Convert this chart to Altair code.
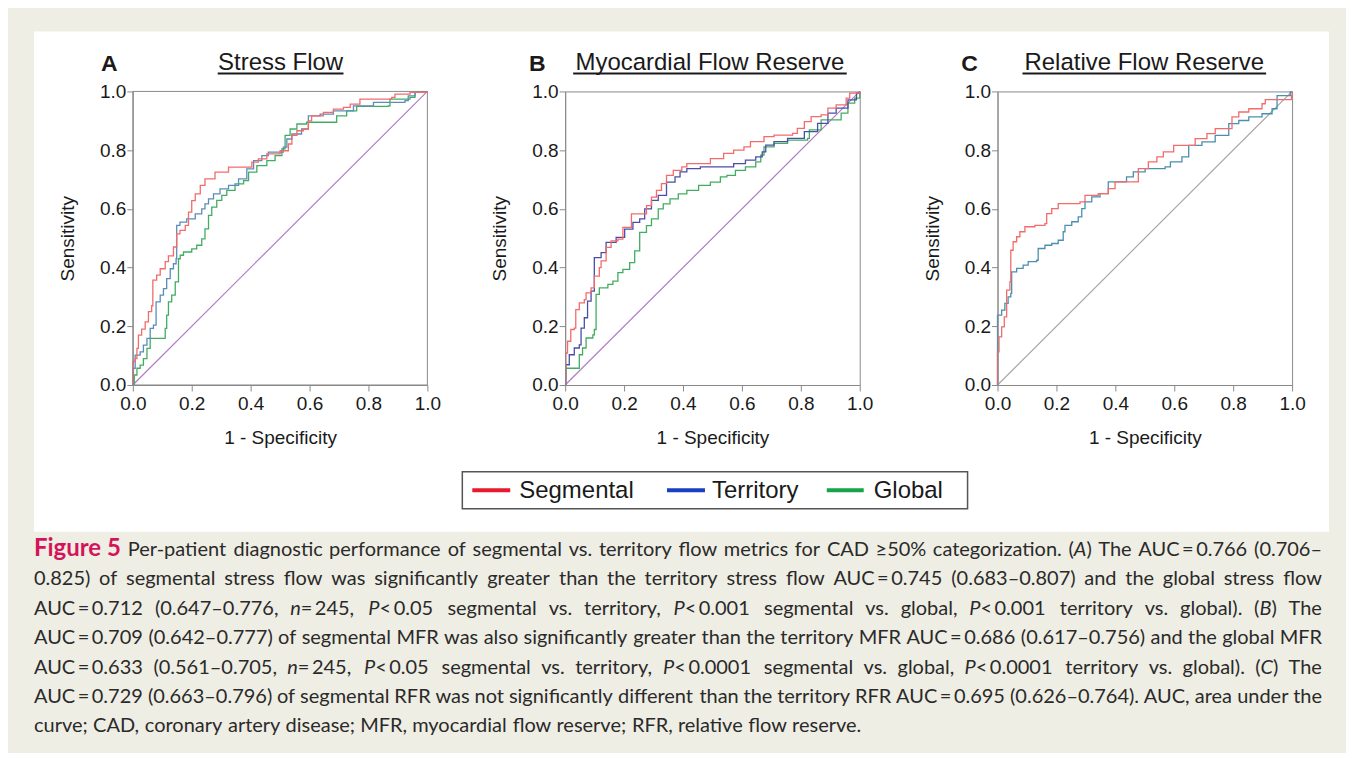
import glob
import os
import struct

import altair as alt
import pandas as pd

# ---------------- data ----------------
series_names = ["Segmental", "Territory", "Global"]
panel_letters = ["A", "B", "C"]
panel_titles = ["Stress Flow", "Myocardial Flow Reserve", "Relative Flow Reserve"]
tick_values = [0.0, 0.2, 0.4, 0.6, 0.8, 1.0]
diag_fpr = [0.0, 1.0]
diag_tpr = [0.0, 1.0]

# Panel A: stress flow  (1-specificity, sensitivity)
a_segmental = [(0, 0), (0, 0.08), (0.008, 0.09), (0.014, 0.125), (0.019, 0.17), (0.03, 0.19), (0.042, 0.215),
               (0.053, 0.25), (0.064, 0.27), (0.068, 0.357), (0.081, 0.374), (0.093, 0.396), (0.11, 0.42),
               (0.121, 0.44), (0.138, 0.47), (0.149, 0.515), (0.16, 0.527), (0.178, 0.544), (0.189, 0.589),
               (0.2, 0.628), (0.212, 0.651), (0.229, 0.68), (0.245, 0.702), (0.279, 0.725), (0.319, 0.725),
               (0.325, 0.742), (0.393, 0.742), (0.404, 0.759), (0.426, 0.77), (0.455, 0.787), (0.5, 0.798),
               (0.517, 0.798), (0.528, 0.821), (0.54, 0.85), (0.557, 0.866), (0.579, 0.872), (0.596, 0.9),
               (0.607, 0.917), (0.647, 0.929), (0.681, 0.94), (0.715, 0.946), (0.738, 0.957), (0.771, 0.974),
               (0.879, 0.98), (0.89, 0.991), (0.941, 0.997), (1, 1)]
a_territory = [(0, 0), (0.002, 0.057), (0.008, 0.102), (0.025, 0.113), (0.036, 0.136), (0.048, 0.159),
               (0.059, 0.193), (0.07, 0.204), (0.079, 0.283), (0.093, 0.306), (0.104, 0.328), (0.115, 0.362),
               (0.127, 0.396), (0.138, 0.413), (0.147, 0.43), (0.149, 0.544), (0.16, 0.555), (0.183, 0.566),
               (0.212, 0.583), (0.234, 0.6), (0.245, 0.617), (0.257, 0.634), (0.274, 0.651), (0.296, 0.668),
               (0.325, 0.68), (0.359, 0.702), (0.387, 0.736), (0.41, 0.764), (0.438, 0.781), (0.46, 0.793),
               (0.511, 0.81), (0.523, 0.838), (0.54, 0.855), (0.573, 0.872), (0.596, 0.917), (0.636, 0.923),
               (0.681, 0.934), (0.749, 0.951), (0.817, 0.963), (0.924, 0.969), (0.935, 0.985), (0.958, 0.997),
               (1, 1)]
a_global = [(0, 0), (0.005, 0.034), (0.014, 0.057), (0.025, 0.068), (0.036, 0.09), (0.048, 0.125),
            (0.059, 0.159), (0.098, 0.159), (0.11, 0.193), (0.115, 0.238), (0.121, 0.283), (0.132, 0.306),
            (0.144, 0.351), (0.155, 0.43), (0.161, 0.442), (0.172, 0.453), (0.2, 0.464), (0.217, 0.476),
            (0.234, 0.498), (0.245, 0.532), (0.257, 0.578), (0.268, 0.606), (0.285, 0.629), (0.302, 0.646),
            (0.319, 0.663), (0.347, 0.685), (0.376, 0.696), (0.393, 0.725), (0.421, 0.747), (0.455, 0.764),
            (0.483, 0.781), (0.506, 0.804), (0.517, 0.85), (0.534, 0.872), (0.557, 0.889), (0.59, 0.895),
            (0.67, 0.895), (0.692, 0.917), (0.726, 0.934), (0.76, 0.949), (0.868, 0.951), (0.873, 0.974),
            (0.941, 0.98), (0.958, 0.997), (1, 1)]

# Panel B: myocardial flow reserve
b_segmental = [(0, 0), (0.002, 0.109), (0.008, 0.149), (0.019, 0.189), (0.031, 0.194), (0.036, 0.257),
               (0.048, 0.28), (0.065, 0.291), (0.071, 0.314), (0.088, 0.331), (0.099, 0.371), (0.116, 0.4),
               (0.122, 0.423), (0.139, 0.469), (0.156, 0.491), (0.179, 0.497), (0.196, 0.537), (0.225, 0.583),
               (0.259, 0.583), (0.276, 0.611), (0.293, 0.64), (0.31, 0.663), (0.327, 0.686), (0.344, 0.714),
               (0.367, 0.731), (0.396, 0.743), (0.413, 0.754), (0.487, 0.754), (0.493, 0.771), (0.538, 0.789),
               (0.572, 0.8), (0.607, 0.811), (0.629, 0.829), (0.669, 0.829), (0.675, 0.846), (0.709, 0.851),
               (0.772, 0.857), (0.788, 0.874), (0.812, 0.897), (0.835, 0.914), (0.869, 0.92), (0.892, 0.943),
               (0.92, 0.954), (0.954, 0.977), (0.966, 0.994), (1, 1)]
b_territory = [(0, 0), (0.002, 0.069), (0.014, 0.103), (0.031, 0.126), (0.048, 0.137), (0.054, 0.194),
               (0.065, 0.229), (0.076, 0.286), (0.088, 0.32), (0.099, 0.434), (0.122, 0.451), (0.139, 0.486),
               (0.173, 0.503), (0.202, 0.531), (0.23, 0.554), (0.253, 0.566), (0.27, 0.6), (0.293, 0.629),
               (0.316, 0.646), (0.344, 0.691), (0.373, 0.709), (0.39, 0.726), (0.413, 0.737), (0.447, 0.737),
               (0.459, 0.743), (0.527, 0.743), (0.572, 0.754), (0.612, 0.766), (0.647, 0.777), (0.669, 0.794),
               (0.681, 0.817), (0.709, 0.829), (0.755, 0.84), (0.812, 0.863), (0.857, 0.891), (0.892, 0.926),
               (0.92, 0.943), (0.96, 0.971), (0.989, 0.994), (1, 1)]
b_global = [(0, 0), (0.002, 0.057), (0.042, 0.057), (0.048, 0.103), (0.059, 0.126), (0.071, 0.16),
            (0.094, 0.171), (0.099, 0.189), (0.105, 0.309), (0.116, 0.331), (0.145, 0.343), (0.162, 0.354),
            (0.179, 0.383), (0.196, 0.394), (0.219, 0.417), (0.236, 0.457), (0.253, 0.52), (0.276, 0.543),
            (0.293, 0.566), (0.316, 0.6), (0.333, 0.617), (0.356, 0.634), (0.384, 0.651), (0.413, 0.663),
            (0.453, 0.68), (0.493, 0.691), (0.527, 0.709), (0.549, 0.714), (0.578, 0.731), (0.612, 0.743),
            (0.647, 0.76), (0.664, 0.783), (0.675, 0.811), (0.709, 0.823), (0.755, 0.834), (0.823, 0.84),
            (0.829, 0.869), (0.869, 0.903), (0.937, 0.926), (0.96, 0.96), (0.983, 0.977), (1, 1)]

# Panel C: relative flow reserve
c_segmental = [(0, 0), (0, 0.113), (0.005, 0.164), (0.014, 0.198), (0.023, 0.232), (0.031, 0.323),
               (0.042, 0.351), (0.045, 0.459), (0.053, 0.488), (0.065, 0.505), (0.076, 0.522), (0.093, 0.539),
               (0.127, 0.544), (0.161, 0.55), (0.167, 0.584), (0.184, 0.601), (0.206, 0.618), (0.28, 0.624),
               (0.297, 0.646), (0.342, 0.652), (0.376, 0.669), (0.399, 0.692), (0.473, 0.692), (0.478, 0.737),
               (0.512, 0.76), (0.541, 0.777), (0.563, 0.794), (0.598, 0.816), (0.643, 0.816), (0.671, 0.839),
               (0.711, 0.856), (0.739, 0.873), (0.796, 0.913), (0.819, 0.93), (0.853, 0.941), (0.898, 0.958),
               (0.909, 0.972), (0.989, 0.972), (0.998, 0.986), (1, 1)]
c_territory = [(0, 0), (0, 0.238), (0.014, 0.255), (0.025, 0.278), (0.036, 0.3), (0.045, 0.312),
               (0.048, 0.385), (0.065, 0.397), (0.087, 0.408), (0.104, 0.42), (0.133, 0.425), (0.138, 0.465),
               (0.161, 0.476), (0.184, 0.482), (0.206, 0.493), (0.223, 0.522), (0.229, 0.544), (0.252, 0.556),
               (0.274, 0.573), (0.286, 0.601), (0.297, 0.624), (0.32, 0.641), (0.348, 0.652), (0.376, 0.692),
               (0.433, 0.692), (0.438, 0.709), (0.461, 0.726), (0.501, 0.737), (0.569, 0.743), (0.587, 0.76),
               (0.626, 0.777), (0.649, 0.816), (0.694, 0.828), (0.739, 0.85), (0.785, 0.89), (0.819, 0.901),
               (0.853, 0.913), (0.898, 0.924), (0.932, 0.941), (0.949, 0.986), (0.977, 0.986), (0.994, 0.998),
               (1, 1)]

# caption (segments between underscores are set in italics)
caption_head = "Figure 5"
caption_lines = [
    "Per-patient diagnostic performance of segmental vs. territory flow metrics for CAD \u226550% categorization. (_A_) The AUC\u2009=\u20090.766 (0.706\u2013",
    "0.825) of segmental stress flow was significantly greater than the territory stress flow AUC\u2009=\u20090.745 (0.683\u20130.807) and the global stress flow",
    "AUC\u2009=\u20090.712 (0.647\u20130.776, _n_\u2009=\u2009245, _P_\u2009<\u20090.05 segmental vs. territory, _P_\u2009<\u20090.001 segmental vs. global, _P_\u2009<\u20090.001 territory vs. global). (_B_) The",
    "AUC\u2009=\u20090.709 (0.642\u20130.777) of segmental MFR was also significantly greater than the territory MFR AUC\u2009=\u20090.686 (0.617\u20130.756) and the global MFR",
    "AUC\u2009=\u20090.633 (0.561\u20130.705, _n_\u2009=\u2009245, _P_\u2009<\u20090.05 segmental vs. territory, _P_\u2009<\u20090.0001 segmental vs. global, _P_\u2009<\u20090.0001 territory vs. global). (_C_) The",
    "AUC\u2009=\u20090.729 (0.663\u20130.796) of segmental RFR was not significantly different than the territory RFR AUC\u2009=\u20090.695 (0.626\u20130.764). AUC, area under the",
    "curve; CAD, coronary artery disease; MFR, myocardial flow reserve; RFR, relative flow reserve.",
]

# ---------------- styling ----------------
BEIGE = "#efeee4"
AX = "#8a8a8a"
TXT = "#1a1a1a"
CAP_TXT = "#2a2a2a"
FONT = "Liberation Sans"
CAP_FONT = "Lato"
CAP_SIZE = 20
HEAD_SIZE = 24
W, H = 295, 294
dummy = pd.DataFrame({"d": [0]})


# ---------- text measurement (for justified caption lines) ----------
def font_measurer(stem):
    try:
        paths = []
        for root in ["/usr/share/fonts", "/usr/local/share/fonts",
                     os.path.expanduser("~/.fonts"), os.path.expanduser("~/.local/share/fonts")]:
            paths += [p for p in glob.glob(os.path.join(root, "**", stem + ".*"), recursive=True)
                      if p.lower().endswith((".ttf", ".otf"))]
        data = open(paths[0], "rb").read()
        ntab = struct.unpack(">H", data[4:6])[0]
        tabs = {}
        for i in range(ntab):
            tag, _, off, _ = struct.unpack(">4sIII", data[12 + 16 * i:28 + 16 * i])
            tabs[tag.decode("latin1")] = off
        upem = struct.unpack(">H", data[tabs["head"] + 18:tabs["head"] + 20])[0]
        nhm = struct.unpack(">H", data[tabs["hhea"] + 34:tabs["hhea"] + 36])[0]
        hm = tabs["hmtx"]
        adv = [struct.unpack(">H", data[hm + 4 * i:hm + 4 * i + 2])[0] for i in range(nhm)]
        cm = tabs["cmap"]
        nsub = struct.unpack(">H", data[cm + 2:cm + 4])[0]
        sub = None
        for i in range(nsub):
            pid, eid, off = struct.unpack(">HHI", data[cm + 4 + 8 * i:cm + 12 + 8 * i])
            fmt = struct.unpack(">H", data[cm + off:cm + off + 2])[0]
            if fmt == 4 and (pid == 3 or pid == 0):
                sub = cm + off
                break
        seg2 = struct.unpack(">H", data[sub + 6:sub + 8])[0]
        seg = seg2 // 2
        ends = struct.unpack(">%dH" % seg, data[sub + 14:sub + 14 + seg2])
        starts = struct.unpack(">%dH" % seg, data[sub + 16 + seg2:sub + 16 + 2 * seg2])
        deltas = struct.unpack(">%dh" % seg, data[sub + 16 + 2 * seg2:sub + 16 + 3 * seg2])
        ro = sub + 16 + 3 * seg2
        ros = struct.unpack(">%dH" % seg, data[ro:ro + seg2])

        def glyph(c):
            for i in range(seg):
                if ends[i] >= c:
                    if starts[i] > c:
                        return 0
                    if ros[i] == 0:
                        return (c + deltas[i]) & 0xFFFF
                    a = ro + 2 * i + ros[i] + 2 * (c - starts[i])
                    g = struct.unpack(">H", data[a:a + 2])[0]
                    return (g + deltas[i]) & 0xFFFF if g else 0
            return 0

        def measure(s, size):
            w = 0
            for ch in s:
                g = glyph(ord(ch))
                w += adv[min(g, nhm - 1)] if g else 0.2 * upem
            return w * size / upem
        measure("Test", 10)
        return measure
    except Exception:
        return lambda s, size: len(s) * 0.47 * size


measure_reg = font_measurer("Lato-Regular")
measure_it = font_measurer("Lato-Italic")
measure_bold = font_measurer("Lato-Bold")


def xenc():
    return alt.X("fpr:Q", scale=alt.Scale(domain=[0, 1], nice=False, zero=False),
                 axis=alt.Axis(values=tick_values, format=".1f", title="1 - Specificity", grid=False,
                               labelFont=FONT, labelFontSize=19, labelColor=TXT, labelFlush=False,
                               labelOverlap=False, labelPadding=4, zindex=1,
                               titleFont=FONT, titleFontSize=19, titleFontWeight="normal", titleColor=TXT,
                               titlePadding=15, domainColor=AX, tickColor=AX, tickSize=6))


def yenc():
    return alt.Y("tpr:Q", scale=alt.Scale(domain=[0, 1], nice=False, zero=False),
                 axis=alt.Axis(values=tick_values, format=".1f", title="Sensitivity", grid=False,
                               labelFont=FONT, labelFontSize=19, labelColor=TXT, labelFlush=False,
                               labelOverlap=False, labelPadding=1, zindex=1,
                               titleFont=FONT, titleFontSize=19, titleFontWeight="normal", titleColor=TXT,
                               titlePadding=22, domainColor=AX, tickColor=AX, tickSize=6))


def curve(points, color):
    df = pd.DataFrame(points, columns=["fpr", "tpr"])
    df["ord"] = range(len(df))
    return alt.Chart(df).mark_line(color=color, strokeWidth=1.3, interpolate="step-after").encode(
        x=xenc(), y=yenc(), order="ord:Q")


def text(t, x, y, size, color=TXT, weight="normal", align="left", baseline="alphabetic", font=FONT):
    return alt.Chart(dummy).mark_text(align=align, baseline=baseline, font=font, fontSize=size,
                                      fontWeight=weight, color=color).encode(
        x=alt.value(x), y=alt.value(y), text=alt.value(t))


def hrule(x1, x2, y, color, width):
    return alt.Chart(dummy).mark_rule(color=color, strokeWidth=width).encode(
        x=alt.value(x1), x2=alt.value(x2), y=alt.value(y))


def box(x1, x2, y1, y2, fill, stroke=None, sw=0, fill_opacity=1):
    kw = dict(fill=fill, strokeWidth=sw, fillOpacity=fill_opacity)
    if stroke:
        kw["stroke"] = stroke
    return alt.Chart(dummy).mark_rect(**kw).encode(
        x=alt.value(x1), x2=alt.value(x2), y=alt.value(y1), y2=alt.value(y2))


def header(letter, title, lx, tx, uw):
    return [text(letter, lx, -20, 23, weight="bold", align="center"),
            text(title, tx, -21, 24, align="center"),
            hrule(tx - uw / 2, tx + uw / 2, -18, TXT, 2)]


def diag(color):
    return alt.Chart(pd.DataFrame({"fpr": diag_fpr, "tpr": diag_tpr})).mark_line(
        color=color, strokeWidth=1.2).encode(x=xenc(), y=yenc())


# ---------- caption layout (justified words, italic segments) ----------
cap_left, cap_right = -99, 1191
baselines = [465, 494.5, 524, 553.5, 583, 612.5, 642]
word_rows = []
space_w = measure_reg(" ", CAP_SIZE)


def word_parts(w):
    parts = w.split("_")
    out = []
    for k, p in enumerate(parts):
        if p:
            style = "italic" if k % 2 == 1 else "normal"
            m = measure_it if style == "italic" else measure_reg
            out.append((p, style, m(p, CAP_SIZE)))
    return out


for i, line in enumerate(caption_lines):
    words = [word_parts(w) for w in line.split(" ")]
    widths = [sum(p[2] for p in w) for w in words]
    if i == 0:
        words = [None] + words
        widths = [measure_bold(caption_head, HEAD_SIZE)] + widths
    if i < len(caption_lines) - 1:
        gap = max((cap_right - cap_left - sum(widths)) / (len(words) - 1), space_w * 0.8)
    else:
        gap = space_w
    x = cap_left
    for w, wd in zip(words, widths):
        if w is not None:
            xx = x
            for seg, style, sw in w:
                word_rows.append({"word": seg, "px": xx, "py": baselines[i], "style": style})
                xx += sw
        x += wd + gap
words_df = pd.DataFrame(word_rows)


def caption_words(style):
    return alt.Chart(words_df[words_df["style"] == style]).mark_text(
        align="left", baseline="alphabetic", font=CAP_FONT, fontSize=CAP_SIZE, fontStyle=style,
        color=CAP_TXT).encode(
        x=alt.X("px:Q", scale=None, axis=None), y=alt.Y("py:Q", scale=None, axis=None), text="word:N")


caption = [caption_words("normal"), caption_words("italic"),
           text(caption_head, cap_left, baselines[0], HEAD_SIZE, color="#d4145a", weight="bold",
                font=CAP_FONT)]

RED, GREEN = "#f36b6b", "#42ad62"

# ---------- panel A (carries figure background and caption) ----------
# canvas kept to 1338 x 743 so the page (with its 8px margin) fits the window exactly
bg = [box(-124, 1214, -82, 661, BEIGE), box(-99, 1198, -60, 441, "white"),
      box(0, W, 0, H, "white", stroke=AX, sw=1, fill_opacity=0)]

panel_a = alt.layer(*bg, *caption, *header(panel_letters[0], panel_titles[0], -23.5, 148, 126),
                    diag("#b07cc6"), curve(a_global, GREEN), curve(a_territory, "#5b8db8"),
                    curve(a_segmental, RED)).properties(width=W, height=H)

# ---------- panel B (carries the legend) ----------
legend = [box(-103, 403, 381, 418, "white", stroke="#555555", sw=1.5),
          hrule(-93, -55, 399.5, "#e8192c", 4), text(series_names[0], -46, 400, 24, baseline="middle"),
          hrule(102, 140, 399.5, "#1a3fc0", 4), text(series_names[1], 147, 400, 24, baseline="middle"),
          hrule(262, 299, 399.5, "#16a34a", 4), text(series_names[2], 309, 400, 24, baseline="middle")]
panel_b = alt.layer(*legend, *header(panel_letters[1], panel_titles[1], -28, 145, 274),
                    diag("#b07cc6"), curve(b_global, GREEN), curve(b_territory, "#4b4ea6"),
                    curve(b_segmental, RED)).properties(width=W, height=H)

# ---------- panel C ----------
panel_c = alt.layer(*header(panel_letters[2], panel_titles[2], -28, 147, 244),
                    diag("#a8a8a8"), curve(c_territory, "#4b8fae"),
                    curve(c_segmental, RED)).properties(width=W, height=H)

chart = alt.hconcat(panel_a, panel_b, panel_c, spacing=138, bounds="flush").properties(
    padding=0, background=BEIGE).configure_view(stroke=AX, strokeWidth=1)

chart.save("out.html", embed_options={"renderer": "svg", "actions": False})
